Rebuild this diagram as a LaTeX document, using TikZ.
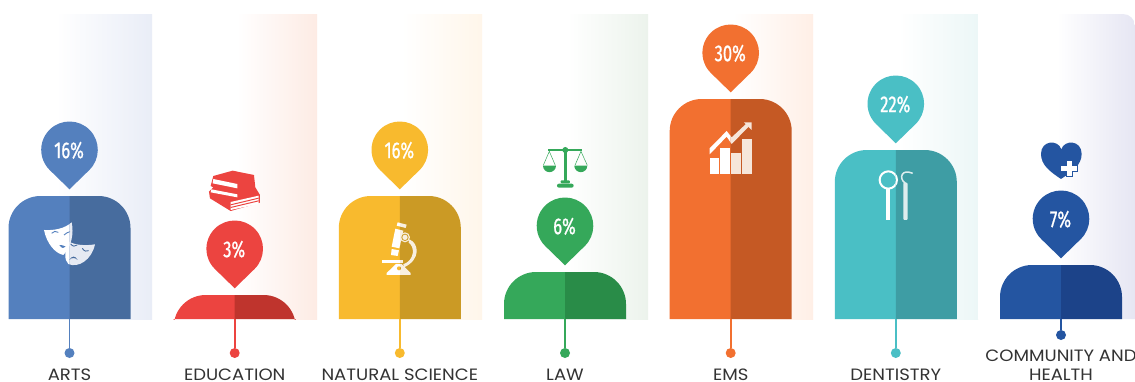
\documentclass[tikz,border=0pt]{standalone}
\usepackage{fontspec}
\setmainfont[FakeStretch=1.1]{Poppins}
\newfontfamily\pctfont[FakeStretch=0.72,FakeBold=0.8]{Fira Sans}
\definecolor{artsL}{HTML}{5480BE}\definecolor{artsD}{HTML}{476C9E}\definecolor{artsT}{HTML}{E9EDF7}\definecolor{artsI}{HTML}{E6EAF3}
\definecolor{eduL}{HTML}{EC4440}\definecolor{eduD}{HTML}{BF342D}\definecolor{eduT}{HTML}{FDEBE4}
\definecolor{natL}{HTML}{F8BA2E}\definecolor{natD}{HTML}{CB9A25}\definecolor{natT}{HTML}{FFF6EA}\definecolor{natI}{HTML}{F8EFE0}
\definecolor{lawL}{HTML}{35A85A}\definecolor{lawD}{HTML}{298C48}\definecolor{lawT}{HTML}{ECF3EC}
\definecolor{emsL}{HTML}{F27030}\definecolor{emsD}{HTML}{C55924}\definecolor{emsT}{HTML}{FFEFE6}\definecolor{emsI}{HTML}{F6E6DA}
\definecolor{denL}{HTML}{4ABFC5}\definecolor{denD}{HTML}{3E9DA4}\definecolor{denT}{HTML}{ECF7F7}\definecolor{denI}{HTML}{DDEDEE}
\definecolor{comL}{HTML}{2455A1}\definecolor{comD}{HTML}{1C4389}\definecolor{comT}{HTML}{E6E6F3}
\definecolor{labelc}{HTML}{333333}
\usetikzlibrary{calc}
\tikzset{
  pct/.style={font=\pctfont\fontsize{23}{23}\selectfont,text=white,inner sep=0pt},
  cat/.style={font=\fontsize{16.4}{19}\selectfont,text=labelc,inner sep=0pt,align=center},
  dotnode/.style={circle,fill=#1,minimum size=10pt,inner sep=0pt},
  stem/.style={draw=#1,line width=1.8pt},
  panel/.style={left color=white,right color=#1,middle color=white},
}
% id, cx, top, colour prefix, percent, dot y, label y, label
\newcommand\personfig[8]{%
  \begin{scope}[shift={(#2,0)}]
    \clip (-70,-319) rectangle (70,0);
    \fill[#4L] (-61,-319) -- (-61,{-(#3)-32}) arc[start angle=180,end angle=90,radius=32] -- (0.4,{-(#3)}) -- (0.4,-319) -- cycle;
    \fill[#4D] (61,-319) -- (61,{-(#3)-32}) arc[start angle=0,end angle=90,radius=32] -- (0,{-(#3)}) -- (0,-319) -- cycle;
  \end{scope}
  \begin{scope}[shift={(#2,{-(#3)+6.7})}]
    \fill[#4L] (0,0) -- ($(0,39.5)+(-45.8:28.3)$) arc[start angle=-45.8,end angle=225.8,radius=28.3] -- cycle;
    \node[pct] (#1-pct) at (-0.5,39) {#5};
  \end{scope}
  \coordinate (#1-base) at (#2,-319);
  \node[dotnode=#4L] (#1-dot) at (#2,-#6) {};
  \draw[stem=#4L] (#1-base) -- (#1-dot);
  \node[cat] (#1-label) at (#2,-#7) {#8};
}
\newcommand\twotone[5]{%
  \begin{scope}\clip (0,0) rectangle (#1,-381);
    \tikzset{icn/.style={fill=white},hole/.style={fill=#3},holeline/.style={draw=#3}}#5
  \end{scope}
  \begin{scope}\clip (#1,0) rectangle (1135,-381);
    \tikzset{icn/.style={fill=#2},hole/.style={fill=#4},holeline/.style={draw=#4}}#5
  \end{scope}
}
\begin{document}
\begin{tikzpicture}[x=1pt,y=1pt]
\useasboundingbox (0,0) rectangle (1135,-381);
\fill[white] (0,0) rectangle (1135,-381);
% panels
\shade[panel=artsT] (-40,-14) rectangle (152,-319);
\shade[panel=eduT] (157,-14) rectangle (317,-319);
\shade[panel=natT] (322,-14) rectangle (482,-319);
\shade[panel=lawT] (486,-14) rectangle (648,-319);
\shade[panel=emsT] (653,-14) rectangle (813,-319);
\shade[panel=denT] (818,-14) rectangle (978,-319);
\begin{scope}
\clip (978,-319) -- (978,-14) -- (1123,-14) arc[start angle=90,end angle=0,radius=12] -- (1135,-319) -- cycle;
\shade[panel=comT] (978,-14) rectangle (1135,-319);
\end{scope}
% figures
\personfig{arts}{69.5}{196}{arts}{16\%}{353}{374.3}{ARTS}
\personfig{edu}{234.7}{295}{edu}{3\%}{353}{374.3}{EDUCATION}
\personfig{nat}{399.8}{196}{nat}{16\%}{353}{374.3}{NATURAL SCIENCE}
\personfig{law}{565}{272}{law}{6\%}{353}{374.3}{LAW}
\personfig{ems}{730.7}{99}{ems}{30\%}{353}{374.3}{EMS}
\personfig{den}{895.8}{150}{den}{22\%}{353}{374.3}{DENTISTRY}
\personfig{com}{1061}{265}{com}{7\%}{335}{364.8}{COMMUNITY AND\\HEALTH}
% masks
\twotone{69.7}{artsI}{artsL}{artsD}{%
  \begin{scope}[shift={(0,-100)},scale=0.3333]
    \fill[icn] (132,-390) .. controls (165,-392) and (195,-385) .. (215,-367) .. controls (222,-400) and (215,-440) .. (190,-465) .. controls (165,-460) and (140,-430) .. (132,-390) -- cycle;
    \fill[icn] (285,-433) .. controls (255,-438) and (225,-435) .. (207,-425) .. controls (192,-455) and (193,-480) .. (205,-492) .. controls (235,-505) and (275,-480) .. (285,-433) -- cycle;
    \draw[holeline,line width=0.9pt] (155,-400) .. controls (160,-393) and (168,-393) .. (175,-397);
    \draw[holeline,line width=0.9pt] (192,-405) .. controls (197,-398) and (205,-398) .. (210,-395);
    \fill[hole] (178,-435) .. controls (185,-434) and (192,-437) .. (197,-440) .. controls (194,-446) and (184,-446) .. (178,-435) -- cycle;
    \draw[holeline,line width=0.9pt] (212,-432) .. controls (218,-440) and (225,-440) .. (232,-435);
    \draw[holeline,line width=0.9pt] (247,-445) .. controls (253,-455) and (260,-455) .. (266,-452);
    \fill[hole] (208,-480) .. controls (215,-468) and (225,-465) .. (233,-480) .. controls (225,-472) and (215,-472) .. (208,-480) -- cycle;
  \end{scope}}
% microscope
\twotone{400}{natI}{natL}{natD}{%
  \begin{scope}[shift={(320,-100)},scale=0.3333]
    \fill[icn] (233,-367) -- (260,-374) -- (257,-384) -- (230,-377) -- cycle;
    \fill[icn] (226,-386) -- (250,-392) -- (238,-445) -- (215,-440) -- cycle;
    \fill[icn] (215,-447) -- (237,-451) -- (233,-468) -- (213,-465) -- cycle;
    \fill[icn] (255,-412) circle[radius=15];
    \fill[hole] (255,-412) circle[radius=11];
    \fill[icn] (255,-412) circle[radius=8];
    \fill[icn] (268,-418) .. controls (298,-430) and (302,-480) .. (252,-502) -- (250,-493) .. controls (285,-480) and (285,-440) .. (266,-428) -- cycle;
    \fill[icn] (187,-481) -- (250,-481) -- (250,-488) -- (187,-488) -- cycle;
    \fill[icn] (200,-525) -- (272,-525) -- (272,-519) -- (245,-492) -- (228,-492) -- (200,-519) -- cycle;
    \fill[hole] (237,-505) circle[radius=6];
  \end{scope}}
% chart
\twotone{730.7}{emsI}{emsL}{emsD}{%
  \begin{scope}[shift={(640,0)},scale=0.3333]
    \fill[icn] (209,-475) rectangle (238,-523);
    \fill[icn] (241,-443) rectangle (270,-523);
    \fill[icn] (273,-460) rectangle (302,-523);
    \fill[icn] (306,-417) rectangle (335,-523);
    \fill[icn] (209,-445) -- (260,-393) -- (275,-412) -- (318,-372) -- (326,-380) -- (275,-432) -- (260,-410) -- (209,-463) -- cycle;
    \fill[icn] (312,-367) -- (335,-367) -- (335,-390) -- cycle;
  \end{scope}}
% dental tools
\twotone{895.7}{denI}{denL}{denD}{%
  \begin{scope}[shift={(640,0)},scale=0.3333]
    \draw[white,line width=2pt] (745,-540) circle[radius=26];
    \fill[icn] (739,-565) rectangle (751,-660);
    \fill[icn,rounded corners=1pt] (790,-548) rectangle (803,-660);
    \draw[denI,line width=1.5pt] (796,-550) .. controls (775,-535) and (785,-505) .. (818,-520);
  \end{scope}}
% books
\begin{scope}[shift={(0,-100)},scale=0.3333]
  \fill[eduL] (698,-212) -- (762,-225) -- (766,-262) -- (780,-285) -- (780,-308) -- (692,-333) -- (630,-295) -- (627,-275) -- (640,-262) -- (632,-258) -- (640,-228) -- cycle;
  \fill[white] (640,-237) -- (712,-252) -- (712,-265) -- (638,-250) -- cycle;
  \fill[white] (634,-268) -- (712,-283) -- (712,-292) -- (632,-277) -- cycle;
  \fill[white] (692,-306) -- (776,-287) -- (776,-312) -- (692,-330) -- cycle;
  \fill[eduL] (692,-313) -- (776,-293) -- (776,-296) -- (692,-316) -- cycle;
  \fill[eduL] (692,-321) -- (776,-301) -- (776,-304) -- (692,-324) -- cycle;
\end{scope}
% scales
\begin{scope}[shift={(320,-100)},scale=0.3333]
  \fill[lawL] (732,-150) rectangle (741,-245);
  \fill[lawL] (736,-150) circle[radius=9];
  \fill[lawL] (685,-147) rectangle (787,-154);
  \fill[lawL,rounded corners=1pt] (722,-241) rectangle (750,-250);
  \fill[lawL,rounded corners=2pt] (711,-251) rectangle (761,-263);
  \draw[lawL,line width=0.5pt] (670,-196) -- (688,-154) -- (706,-196);
  \draw[lawL,line width=0.5pt] (765,-196) -- (783,-154) -- (802,-196);
  \fill[lawL] (669,-197) arc[start angle=180,end angle=360,radius=19.5] -- cycle;
  \fill[lawL] (763,-197) arc[start angle=180,end angle=360,radius=19.5] -- cycle;
\end{scope}
% heart
\begin{scope}[shift={(960,0)},scale=0.3333]
  \fill[comL] (303,-537) .. controls (270,-515) and (243,-495) .. (243,-462) .. controls (243,-420) and (295,-418) .. (304,-448) .. controls (313,-418) and (365,-420) .. (365,-462) .. controls (365,-495) and (336,-515) .. (303,-537) -- cycle;
  \fill[white] (320,-482) rectangle (336,-528);
  \fill[white] (304,-497) rectangle (351,-513);
  \draw[comL,line width=0.4pt] (303,-514) -- (320,-514) -- (320,-529) -- (337,-529) -- (337,-514) -- (352,-514) -- (352,-496);
\end{scope}
\end{tikzpicture}
\end{document}
